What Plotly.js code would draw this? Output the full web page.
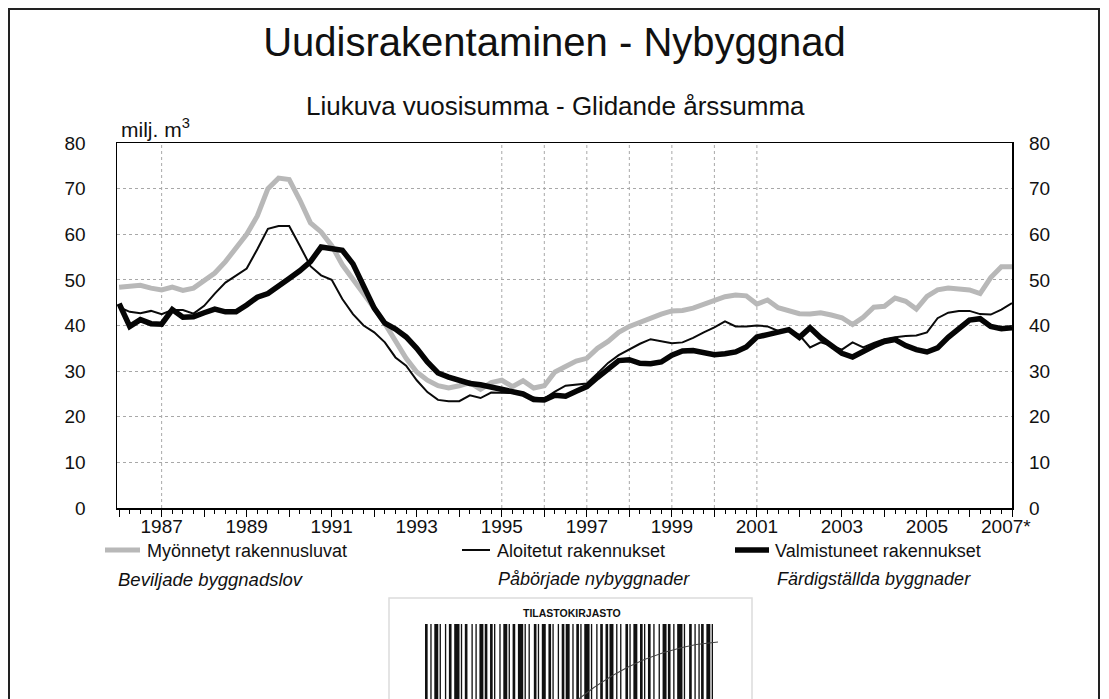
<!DOCTYPE html>
<html><head><meta charset="utf-8">
<script src="https://cdn.plot.ly/plotly-3.0.1.min.js"></script>
<style>html,body{margin:0;padding:0;background:#fff;overflow:hidden}#chart{width:1109px;height:699px}</style>
</head><body><div id="chart"></div>
<script>
// ---- data (rolling annual sum, million m3, quarterly) ----
const periods = [
 1986.00,1986.25,1986.50,1986.75,1987.00,1987.25,1987.50,1987.75,
 1988.00,1988.25,1988.50,1988.75,1989.00,1989.25,1989.50,1989.75,
 1990.00,1990.25,1990.50,1990.75,1991.00,1991.25,1991.50,1991.75,
 1992.00,1992.25,1992.50,1992.75,1993.00,1993.25,1993.50,1993.75,
 1994.00,1994.25,1994.50,1994.75,1995.00,1995.25,1995.50,1995.75,
 1996.00,1996.25,1996.50,1996.75,1997.00,1997.25,1997.50,1997.75,
 1998.00,1998.25,1998.50,1998.75,1999.00,1999.25,1999.50,1999.75,
 2000.00,2000.25,2000.50,2000.75,2001.00,2001.25,2001.50,2001.75,
 2002.00,2002.25,2002.50,2002.75,2003.00,2003.25,2003.50,2003.75,
 2004.00,2004.25,2004.50,2004.75,2005.00,2005.25,2005.50,2005.75,
 2006.00,2006.25,2006.50,2006.75,2007.00];

const permits = [ // Myönnetyt rakennusluvat
 48.4,48.6,48.8,48.2, 47.8,48.4,47.7,48.2,
 50.0,51.5,54.0,56.9, 60.0,64.0,70.0,72.3,
 72.0,67.5,62.5,60.5, 57.5,53.3,50.2,47.2,
 43.8,40.4,36.5,32.8, 29.8,28.0,26.8,26.3,
 26.8,27.5,26.0,27.5, 28.0,26.6,27.9,26.3,
 26.8,29.8,31.0,32.2, 32.8,35.0,36.5,38.5,
 39.8,40.8,41.8,42.5, 43.2,43.3,43.8,44.6,
 45.5,46.3,46.7,46.5, 44.7,45.6,43.9,43.3,
 42.6,42.5,42.8,42.3, 41.7,40.2,41.8,44.0,
 44.2,46.0,45.3,43.6, 46.4,47.8,48.2,48.0,
 47.8,47.0,50.5,52.9, 52.9];

const started = [ // Aloitetut rakennukset
 44.0,43.0,42.7,43.2, 42.5,43.4,43.4,42.6,
 44.3,47.0,49.4,51.0, 52.5,56.7,61.2,61.8,
 61.8,57.5,53.0,51.0, 50.0,45.8,42.5,40.0,
 38.5,36.3,33.0,31.2, 28.0,25.4,23.7,23.4,
 23.4,24.7,24.1,25.3, 25.3,25.2,25.0,24.2,
 24.0,25.5,26.8,27.0, 27.3,29.5,31.8,33.5,
 34.7,36.0,37.0,36.6, 36.1,36.3,37.3,38.5,
 39.6,40.9,39.8,39.8, 40.0,39.8,38.8,39.0,
 37.9,35.2,36.3,35.6, 34.7,36.3,35.2,36.2,
 37.0,37.4,37.7,37.8, 38.5,41.6,42.8,43.2,
 43.2,42.5,42.4,43.5, 44.9];

const completed = [ // Valmistuneet rakennukset
 44.8,39.8,41.3,40.4, 40.3,43.5,41.8,41.9,
 42.8,43.6,43.0,43.0, 44.5,46.2,47.0,48.8,
 50.3,52.0,54.0,57.2, 56.8,56.5,53.5,48.5,
 43.8,40.5,39.2,37.5, 35.0,32.0,29.6,28.7,
 28.0,27.3,27.0,26.5, 25.9,25.5,25.0,23.8,
 23.7,24.7,24.5,25.6, 26.6,28.6,30.5,32.3,
 32.5,31.7,31.6,32.0, 33.5,34.4,34.5,33.9,
 33.6,33.8,34.2,35.3, 37.5,38.0,38.6,39.1,
 37.4,39.5,37.3,35.5, 33.9,33.1,34.4,35.5,
 36.5,36.9,35.6,34.7, 34.2,35.1,37.4,39.5,
 41.2,41.5,39.8,39.3, 39.5];

const tickYears  = [1986,1987,1988,1989,1990,1991,1992,1993,1994,1995,1996,
                    1997,1998,1999,2000,2001,2002,2003,2004,2005,2006,2007];
const tickLabels = [' ','1987',' ','1989',' ','1991',' ','1993',' ','1995',' ',
                    '1997',' ','1999',' ','2001',' ','2003',' ','2005',' ',' '];
const lastTick = {year:2007, label:'2007*'};
const vGridYears = [1987,1995,1996,1997,1998,1999,2000,2001];

const seriesNames = ['Myönnetyt rakennusluvat','Aloitetut rakennukset','Valmistuneet rakennukset'];
const seriesNamesSv = ['Beviljade byggnadslov','Påbörjade nybyggnader','Färdigställda byggnader'];

// barcode sticker pattern (decorative)
const barcodeBars = [2,1,3,1,1,2,4,1,2,1,1,3,2,2,1,1,3,1,2,4,1,1,2,1,3,2,1,1,2,3,1,2,1,4,1,1,2,2,3,1,1,2,1,3,2,1,2,1,1,3,2,1,4,1,2,1,1,2,3,1];
const barcodeGaps = [2,2,1,3,2,2,1,2,3,2,2,1,2,1,3,2,1,2,2,1,2,3,1,2,2,1,3,2,1,2,2,1,2,1,3,2,2,1,2,2,3,1,2,2,1,2,2,3,2,1,2,2,1,3,2,2,1,2,1,0];

const FN='"Liberation Sans", Arial, sans-serif';
const FR='"Liberation Sans", Arial, sans-serif';

// ---- geometry helpers (plot area in px) ----
const W=1109,H=699, L=117, R=97, T=143, B=191;
const PW=W-L-R, PH=H-T-B;
const px=x=>(x-L)/PW, py=y=>(H-B-y)/PH;

const traces = [
 {x:periods, y:permits, type:'scatter', mode:'lines', name:seriesNames[0],
  line:{color:'#b8b8b8', width:5}},
 {x:periods, y:started, type:'scatter', mode:'lines', name:seriesNames[1],
  line:{color:'#0a0a0a', width:2}},
 {x:periods, y:completed, type:'scatter', mode:'lines', name:seriesNames[2], yaxis:'y2',
  line:{color:'#050505', width:5.5}}
];

const shapes = [];
vGridYears.forEach(yr=>shapes.push({type:'line', xref:'x', yref:'paper', x0:yr, x1:yr, y0:0, y1:1,
  line:{color:'#a8a8a8', width:1, dash:'dot'}, layer:'below'}));
// outer frame
shapes.push({type:'rect', xref:'paper', yref:'paper', x0:px(9), x1:px(1099), y0:py(730), y1:py(9),
  line:{color:'#222', width:2}});
// legend samples
const legY = 550;
shapes.push({type:'line', xref:'paper', yref:'paper', x0:px(105), x1:px(140), y0:py(legY), y1:py(legY), line:{color:'#b8b8b8', width:5}});
shapes.push({type:'line', xref:'paper', yref:'paper', x0:px(462), x1:px(490), y0:py(legY), y1:py(legY), line:{color:'#0a0a0a', width:2}});
shapes.push({type:'line', xref:'paper', yref:'paper', x0:px(735), x1:px(769), y0:py(legY), y1:py(legY), line:{color:'#050505', width:5.5}});
// barcode sticker
shapes.push({type:'rect', xref:'paper', yref:'paper', x0:px(389), x1:px(752), y0:py(720), y1:py(598),
  line:{color:'#dcdcdc', width:1.5}});
(function(){
  let tot=0; for(let i=0;i<barcodeBars.length;i++) tot+=barcodeBars[i]+barcodeGaps[i];
  const s=(713-425)/tot; let cx=425;
  for(let i=0;i<barcodeBars.length;i++){
    const w=barcodeBars[i]*s;
    shapes.push({type:'rect', xref:'paper', yref:'paper', x0:px(cx), x1:px(cx+w), y0:py(710), y1:py(624),
      line:{width:0}, fillcolor:'#111'});
    cx+=w+barcodeGaps[i]*s;
  }
  // pen stroke across the sticker
  const p=(x,y)=>px(x).toFixed(4)+','+py(y).toFixed(4);
  shapes.push({type:'path', xref:'paper', yref:'paper',
    path:'M'+p(575,702)+' Q'+p(640,648)+' '+p(718,642), line:{color:'#444', width:1.2}});
})();

const legFont = {family:FR, size:18, color:'#111'};
const annotations = [
 {text:'Liukuva vuosisumma - Glidande årssumma', xref:'paper', yref:'paper', x:px(555), y:py(106),
  xanchor:'center', yanchor:'middle', showarrow:false, font:{family:FN, size:26, color:'#111'}},
 {text:'milj. m<sup>3</sup>', xref:'paper', yref:'paper', x:px(119), y:py(128),
  xanchor:'left', yanchor:'middle', showarrow:false, font:{family:FN, size:21, color:'#111'}},
 {text:lastTick.label, xref:'x', yref:'paper', x:lastTick.year, y:py(526), xshift:-6,
  xanchor:'center', yanchor:'middle', showarrow:false, font:{family:FN, size:19, color:'#111'}},
 {text:seriesNames[0], xref:'paper', yref:'paper', x:px(145), y:py(551), xanchor:'left', yanchor:'middle', showarrow:false, font:legFont},
 {text:seriesNames[1], xref:'paper', yref:'paper', x:px(495), y:py(551), xanchor:'left', yanchor:'middle', showarrow:false, font:legFont},
 {text:seriesNames[2], xref:'paper', yref:'paper', x:px(773), y:py(551), xanchor:'left', yanchor:'middle', showarrow:false, font:legFont},
 {text:'<i>'+seriesNamesSv[0]+'</i>', xref:'paper', yref:'paper', x:px(116), y:py(579), xanchor:'left', yanchor:'middle', showarrow:false, font:{family:FR, size:18.5, color:'#111'}},
 {text:'<i>'+seriesNamesSv[1]+'</i>', xref:'paper', yref:'paper', x:px(496), y:py(579), xanchor:'left', yanchor:'middle', showarrow:false, font:legFont},
 {text:'<i>'+seriesNamesSv[2]+'</i>', xref:'paper', yref:'paper', x:px(775), y:py(579), xanchor:'left', yanchor:'middle', showarrow:false, font:legFont},
 {text:'<b>TILASTOKIRJASTO</b>', xref:'paper', yref:'paper', x:px(572), y:py(613), xanchor:'center', yanchor:'middle', showarrow:false, font:{family:FR, size:10.5, color:'#111'}}
];

const axisFont = {family:FN, size:19, color:'#111'};
const layout = {
  width:W, height:H,
  margin:{l:L, r:R, t:T, b:B, pad:0},
  paper_bgcolor:'#fff', plot_bgcolor:'#fff',
  showlegend:false,
  title:{text:'Uudisrakentaminen - Nybyggnad', font:{family:FN, size:40, color:'#111'},
         xref:'container', x:0.5, xanchor:'center', yref:'container', y:1-42/H, yanchor:'middle'},
  xaxis:{range:[1985.95,2007.0], tickmode:'array', tickvals:tickYears, ticktext:tickLabels,
         ticks:'outside', ticklen:7, tickwidth:1, tickcolor:'#000',
         showline:true, linecolor:'#000', linewidth:1.5, mirror:true,
         showgrid:false, zeroline:false, tickfont:axisFont, ticklabelstandoff:-6,
         minor:{tickmode:'linear', tick0:1986, dtick:0.25, ticks:'outside', ticklen:4, tickwidth:1, tickcolor:'#000', showgrid:false}},
  yaxis:{range:[0,80], tickmode:'linear', tick0:0, dtick:10, ticks:'',
         showgrid:true, gridcolor:'#a8a8a8', griddash:'dot', gridwidth:1,
         showline:true, linecolor:'#000', linewidth:1.5, mirror:true, zeroline:false,
         tickfont:axisFont, ticklabelstandoff:26},
  yaxis2:{range:[0,80], tickmode:'linear', tick0:0, dtick:10, ticks:'', overlaying:'y', side:'right',
         showgrid:false, zeroline:false, showline:false, tickfont:axisFont, ticklabelstandoff:16},
  shapes:shapes, annotations:annotations
};
Plotly.newPlot('chart', traces, layout, {staticPlot:true, displayModeBar:false});
</script></body></html>
